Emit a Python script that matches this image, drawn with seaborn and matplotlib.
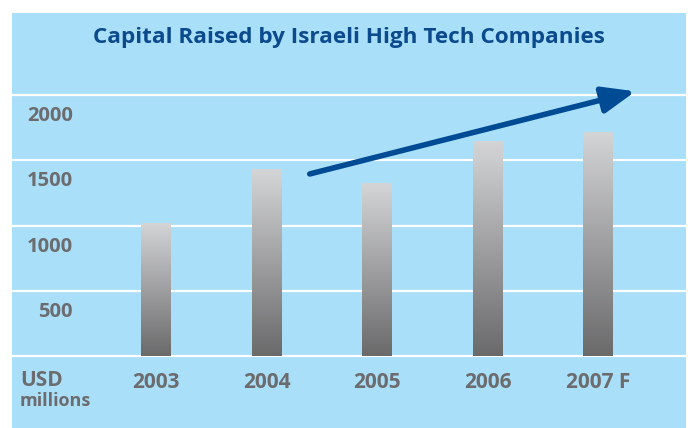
"""
Capital raised by Israeli high tech companies, 2003-2007F (USD millions).
Bar chart with grey gradient bars on a light blue panel.
"""
import numpy as np
import matplotlib
matplotlib.use("Agg")
import matplotlib.pyplot as plt
from matplotlib.colors import LinearSegmentedColormap
from matplotlib.patches import Rectangle
import seaborn as sns

YEARS = ["2003", "2004", "2005", "2006", "2007 F"]
CAPITAL = [1020, 1430, 1325, 1650, 1720]
Y_TICKS = [0, 500, 1000, 1500, 2000]
Y_LABELS = ["", "500", "1000", "1500", "2000"]
TREND_START = (1.39, 1395)
TREND_END = (4.335, 2028)

BG = "#a9dff9"
GREY_TXT = "#6c6c6e"
TITLE_BLUE = "#0b4a8c"
ARROW_BLUE = "#004b93"

sns.set_theme(style="white")
plt.rcParams["font.family"] = ["Open Sans", "DejaVu Sans"]

W, H = 688, 428
fig = plt.figure(figsize=(W / 100, H / 100), dpi=100, facecolor="white")

# blue panel behind everything
fig.patches.append(Rectangle((12 / W, 0), 674 / W, 415 / H, transform=fig.transFigure,
                             facecolor=BG, edgecolor="none", zorder=-1))

px_per_val = 65.25 / 500
y_lo = -15
bottom_px = 356 + (-y_lo) * px_per_val
top_px = 13
ax = fig.add_axes([12 / W, (H - bottom_px) / H, 674 / W, (bottom_px - top_px) / H])
ax.set_zorder(1)
ax.set_facecolor(BG)

sns.barplot(x=YEARS, y=CAPITAL, width=0.27, color="#999999", ax=ax, zorder=3)

# vertical grey gradient in every bar
grad_cmap = LinearSegmentedColormap.from_list("bar", ["#6a6a6b", "#d4d5d7"])
grad = np.linspace(0, 1, 256).reshape(-1, 1)
for p in ax.patches:
    x0, y0 = p.get_x(), p.get_y()
    x1, y1 = x0 + p.get_width(), y0 + p.get_height()
    im = ax.imshow(grad, extent=[x0, x1, y0, y1], origin="lower", aspect="auto",
                   cmap=grad_cmap, zorder=3)
    im.set_clip_path(p)
    p.set_facecolor("none")
    p.set_edgecolor("none")

step = 110.6
ax.set_xlim((12 - 156) / step, (686 - 156) / step)
ax.set_ylim(y_lo, (356 - top_px) / px_per_val)

ax.set_yticks(Y_TICKS)
ax.tick_params(axis="y", length=0, labelleft=False)
ax.grid(axis="y", color="white", lw=1.6)
ax.set_axisbelow(True)
sns.despine(ax=ax, left=True, bottom=True)

# y labels sit just below their gridline
for v, lab in zip(Y_TICKS, Y_LABELS):
    ax.annotate(lab, xy=(0, v), xycoords=("axes fraction", "data"),
                xytext=(61, -21), textcoords="offset pixels",
                ha="right", va="center", fontsize=14.5, fontweight="bold", color=GREY_TXT)

ax.set_xticks(range(len(YEARS)))
ax.set_xticklabels(YEARS, fontsize=15, fontweight="bold", color=GREY_TXT)
ax.tick_params(axis="x", length=0, pad=10)
ax.set_xlabel("")
ax.set_ylabel("")

ax.annotate("", xy=TREND_END, xytext=TREND_START,
            arrowprops=dict(arrowstyle="-|>,head_length=2.0,head_width=0.8",
                            mutation_scale=10, lw=4.0, color=ARROW_BLUE,
                            shrinkA=0, shrinkB=0, capstyle="round"),
            zorder=5)

fig.text(20 / W, 1 - 380 / H, "USD", fontsize=15, fontweight="bold", color=GREY_TXT,
         ha="left", va="center")
fig.text(20 / W, 1 - 401 / H, "millions", fontsize=13, fontweight="bold", color=GREY_TXT,
         ha="left", va="center")

fig.text(349 / W, 1 - 38 / H, "Capital Raised by Israeli High Tech Companies",
         fontsize=16.2, fontweight="bold", color=TITLE_BLUE, ha="center", va="center")

fig.savefig("out.png", dpi=100, facecolor="white")
